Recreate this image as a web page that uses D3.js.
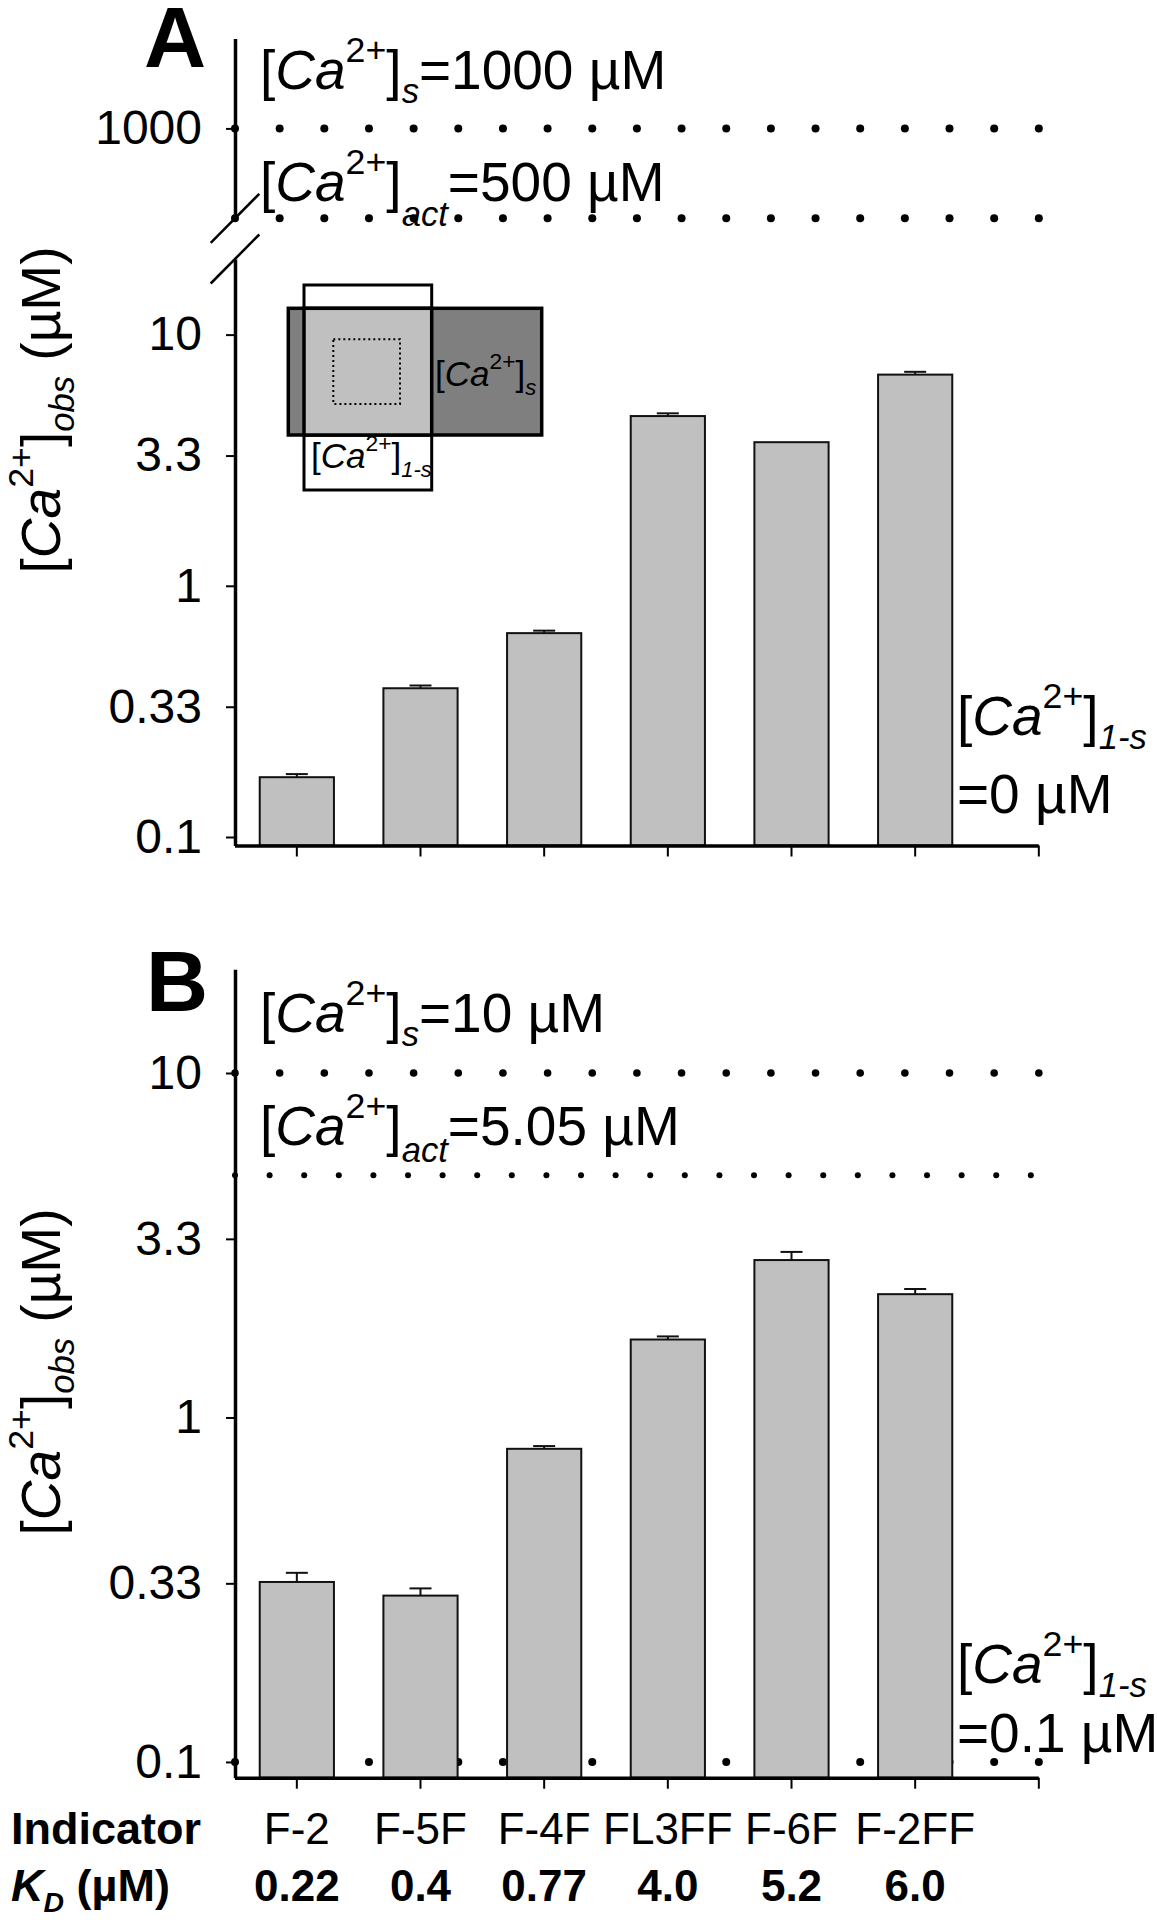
<!DOCTYPE html>
<html>
<head>
<meta charset="utf-8">
<script src="https://cdn.jsdelivr.net/npm/d3@7"></script>
<style>
  body { margin: 0; background: #fff; }
  svg { display: block; }
  text { font-family: "Liberation Sans", Arial, sans-serif; fill: #000; }
</style>
</head>
<body>
<div id="chart"></div>
<script>
// data
const indicators = ["F-2", "F-5F", "F-4F", "FL3FF", "F-6F", "F-2FF"];
const kdLabels = ["0.22", "0.4", "0.77", "4.0", "5.2", "6.0"];
const obsA = [0.173, 0.391, 0.648, 4.74, 3.73, 6.93];
const errA = [0.005, 0.01, 0.015, 0.12, 0, 0.18];
const obsB = [0.333, 0.304, 0.811, 1.684, 2.864, 2.28];
const errB = [0.021, 0.015, 0.015, 0.035, 0.16, 0.08];
const yTicks = [0.1, 0.33, 1, 3.3, 10];
const upperTicksA = [1000];
const caS_A = 1000, caAct_A = 500;
const caS_B = 10, caAct_B = 5.05, ca1s_B = 0.1;

const width = 1157, height = 1920;

const svg = d3.select("#chart").append("svg")
  .attr("width", width).attr("height", height)
  .attr("viewBox", [0, 0, width, height]);

// shared x scale
const x = d3.scaleBand()
  .domain(indicators)
  .range([235, 977])
  .paddingInner(0.4)
  .paddingOuter(0.2);
const xStart = x.range()[0];
const xEnd = x.range()[1] + x.step() / 2;

// y scales (log)
const yA = d3.scaleLog().domain([0.0925, 20]).range([845.5, 259]);
const yAtop = d3.scaleLog().domain([500, 2000]).range([218.3, 38.5]);
const yB = d3.scaleLog().domain([0.09, 20]).range([1777.7, 969.3]);

// text with italic / sub / superscript pieces
function rich(g, px, py, parts, size, extra) {
  const t = g.append("text").attr("x", px).attr("y", py).attr("font-size", size);
  if (extra) extra(t);
  let shift = 0;
  parts.forEach(p => {
    let s = 0, fs = size;
    if (p.sup) { s = -0.5 * size; fs = 0.65 * size; }
    if (p.sub) { s = (p.low || 0.25) * size; fs = 0.63 * size; }
    const ts = t.append("tspan").attr("dy", s - shift).attr("font-size", fs).text(p.t);
    if (p.i) ts.attr("font-style", "italic");
    if (p.b) ts.attr("font-weight", "bold");
    shift = s;
  });
  return t;
}
const ca = (sub, rest, low) => [
  {t: "["}, {t: "Ca", i: true}, {t: "2+", sup: true}, {t: "]"},
  {t: sub, sub: true, i: true, low: low}, {t: rest || ""}
];

function dots(g, yPos, n, x0, x1, r) {
  g.append("g").selectAll("circle")
    .data(d3.range(n + 1))
    .join("circle")
    .attr("cx", i => x0 + i * (x1 - x0) / n)
    .attr("cy", yPos)
    .attr("r", r)
    .attr("fill", "#000");
}

function styleAxis(g) {
  g.attr("font-family", null).attr("font-size", null);
  g.select(".domain").attr("stroke-width", 3.5);
  g.selectAll(".tick line").attr("stroke-width", 2);
  g.selectAll(".tick text").attr("font-size", 48).attr("fill", "#000");
}

function yAxis(g, scale, ticks) {
  g.attr("transform", `translate(${xStart},0)`)
    .call(d3.axisLeft(scale).tickValues(ticks).tickFormat(d => String(d))
      .tickSize(9).tickSizeOuter(0).tickPadding(24))
    .call(styleAxis);
}

function xAxis(g, yPos) {
  g.attr("transform", `translate(0,${yPos})`)
    .call(d3.axisBottom(x).tickFormat("").tickSize(11).tickSizeOuter(0))
    .call(styleAxis);
  g.select(".domain").attr("d", `M${xStart},0.5H${xEnd}`);
  g.append("line").attr("x1", xEnd).attr("x2", xEnd).attr("y1", 0).attr("y2", 11)
    .attr("stroke", "#000").attr("stroke-width", 2);
}

function bars(g, vals, errs, y) {
  const base = y.range()[0];
  g.append("g").selectAll("rect")
    .data(vals)
    .join("rect")
    .attr("x", (d, i) => x(indicators[i]))
    .attr("y", d => y(d))
    .attr("width", x.bandwidth())
    .attr("height", d => base - y(d))
    .attr("fill", "#c0c0c0")
    .attr("stroke", "#111")
    .attr("stroke-width", 2);

  const eb = g.append("g").attr("stroke", "#111").attr("stroke-width", 2);
  vals.forEach((v, i) => {
    if (!errs[i]) return;
    const cx = x(indicators[i]) + x.bandwidth() / 2;
    eb.append("line").attr("x1", cx).attr("x2", cx).attr("y1", y(v)).attr("y2", y(v + errs[i]));
    eb.append("line").attr("x1", cx - 11).attr("x2", cx + 11).attr("y1", y(v + errs[i])).attr("y2", y(v + errs[i]));
  });
}

function yLabel(g, cy) {
  rich(g, 0, 0, [
    {t: "["}, {t: "Ca", i: true}, {t: "2+", sup: true}, {t: "]"},
    {t: "obs", sub: true, i: true}, {t: " (µM)"}
  ], 55, t => t.attr("text-anchor", "middle").attr("transform", `translate(60,${cy}) rotate(-90)`));
}

// ---------------- panel A ----------------
const gA = svg.append("g");

gA.append("text").attr("x", 144).attr("y", 67)
  .attr("font-size", 86).attr("font-weight", "bold").text("A");

dots(gA, yAtop(caS_A), 18, xStart, xEnd, 4);
dots(gA, yAtop(caAct_A), 18, xStart, xEnd, 4);

bars(gA, obsA, errA, yA);

// inset sketch
const inset = gA.append("g");
inset.append("rect").attr("x", 304).attr("y", 285).attr("width", 127.7).attr("height", 205)
  .attr("fill", "#fff").attr("stroke", "#000").attr("stroke-width", 3);
inset.append("rect").attr("x", 288.3).attr("y", 308.3).attr("width", 253.4).attr("height", 126.7)
  .attr("fill", "#7f7f7f").attr("stroke", "#000").attr("stroke-width", 3.5);
inset.append("rect").attr("x", 304).attr("y", 308.3).attr("width", 127.7).attr("height", 126.7)
  .attr("fill", "#c0c0c0").attr("stroke", "#000").attr("stroke-width", 3.5);
inset.append("rect").attr("x", 333.3).attr("y", 339.3).attr("width", 66.7).attr("height", 64.7)
  .attr("fill", "none").attr("stroke", "#000").attr("stroke-width", 2).attr("stroke-dasharray", "2,3");
rich(inset, 435, 386, ca("s"), 35);
rich(inset, 311, 468, ca("1-s"), 35);

gA.append("g").call(yAxis, yAtop, upperTicksA);
gA.append("g").call(yAxis, yA, yTicks);
gA.append("g").call(xAxis, yA.range()[0]);

// axis break marks
const brk = gA.append("g").attr("stroke", "#000").attr("stroke-width", 2.5);
[yAtop(caAct_A), yA.range()[1]].forEach(by => {
  brk.append("line").attr("x1", xStart - 24.3).attr("y1", by + 24.5)
    .attr("x2", xStart + 24.3).attr("y2", by - 24.5);
});

rich(gA, 260, 89, ca("s", "=1000 µM"), 55);
rich(gA, 260, 201, ca("act", "=500 µM", 0.45), 55);
rich(gA, 957, 735, ca("1-s"), 55);
gA.append("text").attr("x", 957).attr("y", 813).attr("font-size", 55).text("=0 µM");

yLabel(gA, 410);

// ---------------- panel B ----------------
const gB = svg.append("g");

gB.append("text").attr("x", 146).attr("y", 1011)
  .attr("font-size", 86).attr("font-weight", "bold").text("B");

dots(gB, yB(caS_B), 18, xStart, xEnd, 3.8);
dots(gB, yB(caAct_B), 23, xStart, xEnd - 8, 3);
dots(gB, yB(ca1s_B), 18, xStart, xEnd, 4);

bars(gB, obsB, errB, yB);

gB.append("g").call(yAxis, yB, yTicks);
gB.append("g").call(xAxis, yB.range()[0]);

rich(gB, 260, 1032, ca("s", "=10 µM"), 55);
rich(gB, 260, 1145, ca("act", "=5.05 µM", 0.3), 55);
rich(gB, 957, 1683, ca("1-s"), 55);
gB.append("text").attr("x", 957).attr("y", 1752).attr("font-size", 55).text("=0.1 µM");

yLabel(gB, 1372);

// category rows
const rows = svg.append("g");
rows.append("text").attr("x", 11).attr("y", 1844).attr("font-size", 45)
  .attr("font-weight", "bold").text("Indicator");
rows.append("g").selectAll("text")
  .data(indicators)
  .join("text")
  .attr("x", d => x(d) + x.bandwidth() / 2)
  .attr("y", 1844)
  .attr("text-anchor", "middle")
  .attr("font-size", 44)
  .text(d => d);

rich(rows, 11, 1901, [
  {t: "K", i: true, b: true}, {t: "D", sub: true, i: true, b: true}, {t: " (µM)", b: true}
], 45);
rows.append("g").selectAll("text")
  .data(kdLabels)
  .join("text")
  .attr("x", (d, i) => x(indicators[i]) + x.bandwidth() / 2)
  .attr("y", 1901)
  .attr("text-anchor", "middle")
  .attr("font-size", 44)
  .attr("font-weight", "bold")
  .text(d => d);
</script>
</body>
</html>
